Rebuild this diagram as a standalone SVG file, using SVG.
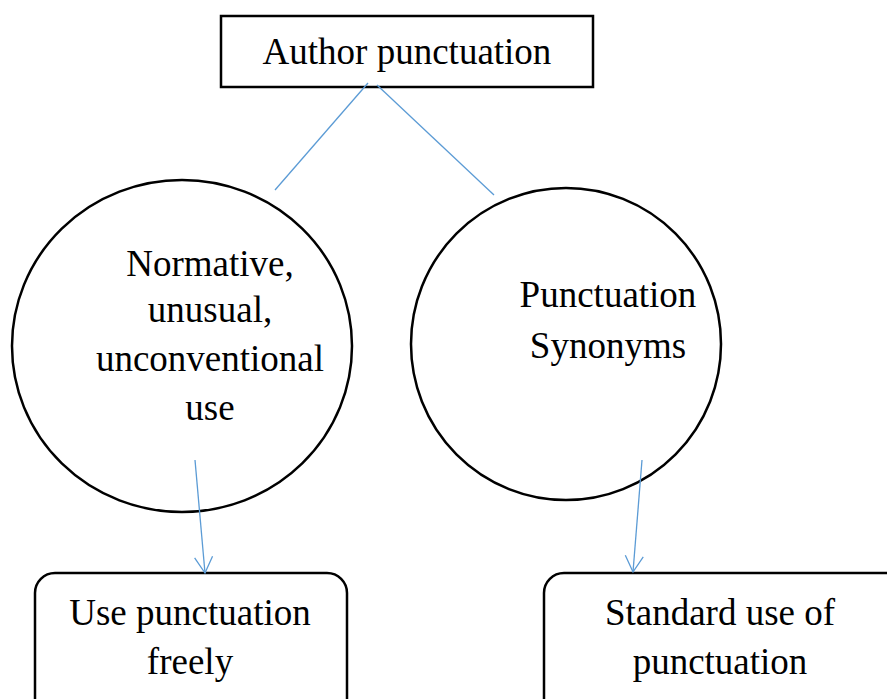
<svg xmlns="http://www.w3.org/2000/svg" width="887" height="699" viewBox="0 0 887 699">
<style>
.t{font-family:"Liberation Serif","Times New Roman",serif;font-size:37px;fill:#000;text-anchor:middle}
.s{fill:#fff;stroke:#000;stroke-width:2.5}
.c{stroke:#5B9BD5;stroke-width:1.3;fill:none}
</style>
<defs>
<marker id="a" viewBox="0 0 20 20" refX="18" refY="10" markerWidth="20" markerHeight="20" markerUnits="userSpaceOnUse" orient="auto">
<path d="M2,1 L18,10 L2,19" fill="none" stroke="#5B9BD5" stroke-width="1.3"/>
</marker>
</defs>
<rect width="887" height="699" fill="#fff"/>
<g id="author"><rect class="s" x="221" y="16" width="372" height="71"/><text class="t" x="407" y="64">Author punctuation</text></g>
<g id="normative"><ellipse class="s" cx="182" cy="346" rx="170" ry="166"/>
<text class="t" x="210" y="276">Normative,</text><text class="t" x="210" y="322">unusual,</text><text class="t" x="210" y="371">unconventional</text><text class="t" x="210" y="420">use</text></g>
<g id="synonyms"><ellipse class="s" cx="566" cy="344" rx="155" ry="156"/>
<text class="t" x="608" y="307">Punctuation</text><text class="t" x="608" y="358">Synonyms</text></g>
<g id="freely"><rect class="s" x="35" y="573" width="312" height="150" rx="20"/>
<text class="t" x="190" y="625">Use punctuation</text><text class="t" x="190" y="674">freely</text></g>
<g id="standard"><rect class="s" x="544" y="573" width="370" height="150" rx="20"/>
<text class="t" x="720" y="625">Standard use of</text><text class="t" x="720" y="674">punctuation</text></g>
<g id="connectors">
<line class="c" x1="368" y1="83" x2="275" y2="190"/>
<line class="c" x1="377" y1="85" x2="494" y2="195"/>
<line class="c" x1="195" y1="460" x2="205" y2="573" marker-end="url(#a)"/>
<line class="c" x1="642" y1="460" x2="633" y2="572" marker-end="url(#a)"/>
</g>
</svg>
